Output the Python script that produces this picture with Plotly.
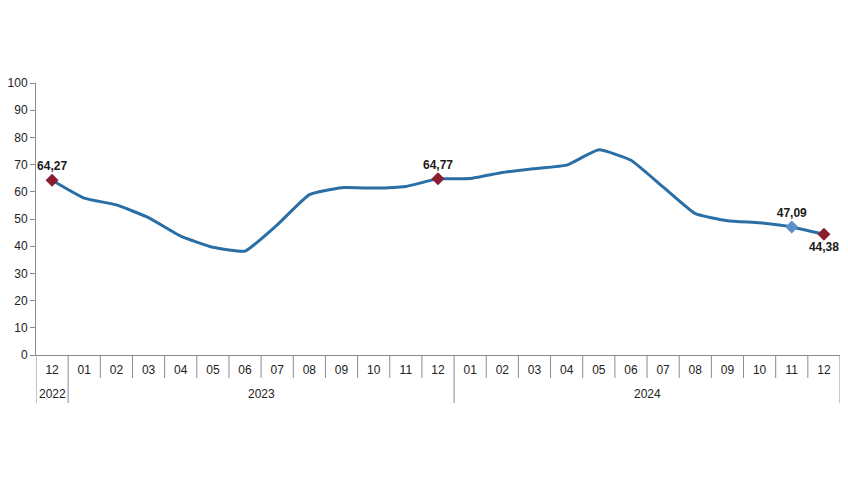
import plotly.graph_objects as go

years = ["2022", "2023", "2024"]
year_counts = [1, 12, 12]
months = ["12", "01", "02", "03", "04", "05", "06", "07", "08", "09", "10", "11", "12",
          "01", "02", "03", "04", "05", "06", "07", "08", "09", "10", "11", "12"]
values = [64.27, 57.68, 55.18, 50.51, 43.68, 39.59, 38.21, 47.83, 58.94, 61.53, 61.36, 61.98, 64.77,
          64.86, 67.07, 68.50, 69.80, 75.45, 71.60, 61.78, 51.97, 49.38, 48.58, 47.09, 44.38]

hl_idx = [0, 12, 23, 24]
hl_colors = ["#8B1E2E", "#8B1E2E", "#5B8FC7", "#8B1E2E"]
hl_text = ["64,27", "64,77", "47,09", "44,38"]
hl_pos = ["top center", "top center", "top center", "bottom center"]

W, H = 840, 469
M = dict(l=28, r=8, t=75, b=122)
xs = list(range(len(months)))
PLOT_H = H - M["t"] - M["b"]
AXC = "#8c8c8c"

fig = go.Figure()
fig.add_trace(go.Scatter(
    x=xs, y=values, mode="lines",
    line=dict(color="#2A6EA6", width=3, shape="spline", smoothing=0.4),
    showlegend=False, hoverinfo="skip"))
fig.add_trace(go.Scatter(
    x=[xs[i] for i in hl_idx], y=[values[i] for i in hl_idx],
    mode="markers+text",
    marker=dict(symbol="diamond", size=10, color=hl_colors),
    text=hl_text, textposition=hl_pos,
    textfont=dict(family="Liberation Sans, Arial", size=12, color="#1a1a1a", weight="bold"),
    showlegend=False, hoverinfo="skip", cliponaxis=False))

shapes = []
group_bounds = set()
acc = 0
for c in year_counts:
    group_bounds.add(acc - 0.5)
    acc += c
group_bounds.add(acc - 0.5)
for b in [i - 0.5 for i in range(len(months) + 1)]:
    depth = 48 if b in group_bounds else 23
    shapes.append(dict(type="line", xref="x", yref="paper", x0=b, x1=b, y0=0, y1=-depth / PLOT_H,
                       line=dict(color=AXC, width=1)))

annotations = []
acc = 0
for y, c in zip(years, year_counts):
    center = acc + (c - 1) / 2
    annotations.append(dict(x=center, y=-39 / PLOT_H, xref="x", yref="paper", text=y,
                            showarrow=False, font=dict(size=12, color="#222"),
                            xanchor="center", yanchor="middle"))
    acc += c

fig.update_layout(
    width=W, height=H,
    margin=dict(**M, autoexpand=False),
    paper_bgcolor="white", plot_bgcolor="white",
    font=dict(family="Liberation Sans, Arial", size=12, color="#222"),
    shapes=shapes, annotations=annotations,
)
fig.update_yaxes(range=[0, 100], dtick=10, showgrid=False, zeroline=False, automargin=False,
                 showline=True, linecolor=AXC, linewidth=1,
                 ticks="outside", ticklen=5, tickcolor=AXC,
                 tickfont=dict(size=12, color="#222"))
fig.update_xaxes(range=[-0.5, len(months) - 0.5], tickvals=xs, ticktext=months, automargin=False,
                 showgrid=False, zeroline=False, showline=True, linecolor=AXC, linewidth=1,
                 ticks="outside", ticklen=4, tickcolor="rgba(0,0,0,0)",
                 tickfont=dict(size=12, color="#222"))

fig.write_html("out.html")
